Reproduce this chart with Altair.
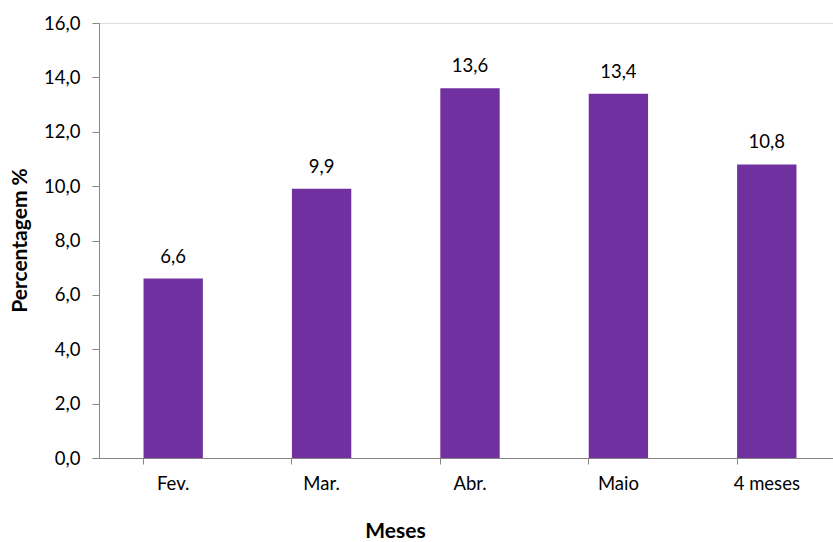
import altair as alt
import pandas as pd

# Monthly percentages
meses = ["Fev.", "Mar.", "Abr.", "Maio", "4 meses"]
percentagem = [6.6, 9.9, 13.6, 13.4, 10.8]
rotulos = ["6,6", "9,9", "13,6", "13,4", "10,8"]

df = pd.DataFrame({"mes": meses, "valor": percentagem, "rotulo": rotulos})

FONT = "Lato"
AXIS_GREY = "#868686"
PURPLE = "#7030A0"
LABEL_SIZE = 18.5
TITLE_SIZE = 21

x_enc = alt.X(
    "mes:N",
    sort=meses,
    scale=alt.Scale(range=[0, 742], paddingInner=0.6, paddingOuter=0.3),
    axis=alt.Axis(
        title="Meses",
        labelAngle=0,
        bandPosition=0,
        tickSize=6,
        labelPadding=10,
        labelFontSize=LABEL_SIZE,
        labelFont=FONT,
        labelColor="#000000",
        domainColor=AXIS_GREY,
        tickColor=AXIS_GREY,
        titleFont=FONT,
        titleFontSize=TITLE_SIZE,
        titleFontWeight="bold",
        titleColor="#000000",
        titleX=296,
        titleY=73,
        titleBaseline="middle",
        titleAnchor="start",
        titleAlign="center",
    ),
)

y_enc = alt.Y(
    "valor:Q",
    scale=alt.Scale(domain=[0, 16], nice=False),
    axis=alt.Axis(
        title="Percentagem %",
        values=[0, 2, 4, 6, 8, 10, 12, 14, 16],
        labelExpr="replace(format(datum.value, '.1f'), '.', ',')",
        grid=False,
        tickSize=7,
        labelPadding=12,
        labelFontSize=LABEL_SIZE,
        labelFont=FONT,
        labelColor="#000000",
        domainColor=AXIS_GREY,
        tickColor=AXIS_GREY,
        titleFont=FONT,
        titleFontSize=TITLE_SIZE,
        titleFontWeight="bold",
        titleColor="#000000",
        titleAngle=270,
        titleX=-79,
        titleY=217,
        titleBaseline="middle",
        titleAlign="center",
        titleAnchor="start",
    ),
)

bars = alt.Chart(df).mark_bar(color=PURPLE).encode(x=x_enc, y=y_enc)

labels = alt.Chart(df).mark_text(
    font=FONT, fontSize=LABEL_SIZE, color="#000000", baseline="bottom", dy=-12
).encode(
    x=alt.X("mes:N", sort=meses),
    y="valor:Q",
    text="rotulo:N",
)

chart = (
    alt.layer(bars, labels)
    .properties(
        width=734,
        height=435,
        autosize=alt.AutoSizeParams(type="none"),
        padding={"left": 99, "top": 23, "right": 0, "bottom": 84},
    )
    .configure_view(stroke=None)
    .configure(background="#ffffff")
)

chart.save("out.html", embed_options={"renderer": "svg", "actions": False})
